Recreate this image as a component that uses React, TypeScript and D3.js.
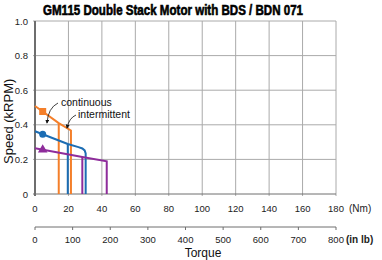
import React from "react";
import * as d3 from "d3";

const title = "GM115 Double Stack Motor with BDS / BDN 071";
const nmTicks = [0, 20, 40, 60, 80, 100, 120, 140, 160, 180];
const inlbTicks = [0, 100, 200, 300, 400, 500, 600, 700, 800];
const speedTicks = [0, 0.2, 0.4, 0.6, 0.8, 1.0];

// Orange (square marker)
const orangeTorque = [0, 14.2, 21.5, 21.5];
const orangeSpeed = [0.509, 0.41, 0.367, 0];
const orangeCont = 14.2;
// Blue (circle marker)
const blueTorque = [0, 19.6, 26, 28.3, 29.7, 30.3, 30.3];
const blueSpeed = [0.363, 0.289, 0.271, 0.263, 0.252, 0.235, 0];
const blueCont = 19.6;
// Purple (triangle marker)
const purpleTorque = [0, 28.3, 42.9, 42.9];
const purpleSpeed = [0.264, 0.214, 0.189, 0];
const purpleCont = 28.3;
const markerTorque = 4.6;

const series = [
  { color: "#f47f2a", torque: orangeTorque, speed: orangeSpeed, cont: orangeCont, marker: "square" },
  { color: "#1c6db3", torque: blueTorque, speed: blueSpeed, cont: blueCont, marker: "circle" },
  { color: "#8e2c9b", torque: purpleTorque, speed: purpleSpeed, cont: purpleCont, marker: "triangle" },
];

function interp(xs: number[], ys: number[], x: number) {
  for (let i = 0; i < xs.length - 1; i++) {
    if (x >= xs[i] && x <= xs[i + 1] && xs[i + 1] !== xs[i]) {
      const t = (x - xs[i]) / (xs[i + 1] - xs[i]);
      return ys[i] + t * (ys[i + 1] - ys[i]);
    }
  }
  return ys[ys.length - 1];
}

export default function App() {
  const W = 382, H = 260;
  const x = d3.scaleLinear().domain([0, 180]).range([35, 336]);
  const x2 = d3.scaleLinear().domain([0, 800]).range([35, 336]);
  const y = d3.scaleLinear().domain([0, 1]).range([194, 21]);
  const line = d3.line<[number, number]>().x(d => x(d[0])).y(d => y(d[1]));
  const font = "Liberation Sans, Arial, sans-serif";
  const grid = "#aaaaaa";
  const axisC = "#6e6e6e";

  return (
    <svg width={W} height={H} style={{ position: "absolute", left: 0, top: 0 }} fontFamily={font}>
      <rect width={W} height={H} fill="#fff" />
      <text x={173} y={15} textAnchor="middle" fontFamily="Liberation Sans Narrow, Arial Narrow, sans-serif" fontWeight="bold" fontSize={14.5} stroke="#000" strokeWidth={0.6} textLength={260} lengthAdjust="spacingAndGlyphs">{title}</text>
      {/* grid */}
      {nmTicks.map(t => (
        <line key={"v" + t} x1={x(t)} x2={x(t)} y1={y(1)} y2={y(0) + 2} stroke={grid} strokeWidth={1} />
      ))}
      {speedTicks.map(t => (
        <line key={"h" + t} x1={x(0) - 2} x2={x(180)} y1={y(t)} y2={y(t)} stroke={t === 0 ? axisC : grid} strokeWidth={1} />
      ))}
      <line x1={x(0)} x2={x(0)} y1={y(1)} y2={y(0) + 2} stroke={axisC} strokeWidth={2} />
      {speedTicks.map(t => (
        <text key={"yl" + t} x={28} y={y(t) + 3.5} textAnchor="end" fontSize={9.5} fill="#222">{t === 0 ? "0" : t.toFixed(1)}</text>
      ))}
      {nmTicks.map(t => (
        <text key={"xl" + t} x={x(t)} y={212} textAnchor="middle" fontSize={9.5} fill="#222">{t}</text>
      ))}
      <text x={349} y={212} fontSize={10} fill="#222">(Nm)</text>
      {/* second axis */}
      <line x1={x2(0)} x2={x2(800)} y1={227} y2={227} stroke={axisC} strokeWidth={1} />
      {inlbTicks.map(t => (
        <g key={"il" + t}>
          <line x1={x2(t)} x2={x2(t)} y1={227} y2={230} stroke={axisC} />
          <text x={x2(t)} y={243} textAnchor="middle" fontSize={9.5} fill="#222">{t}</text>
        </g>
      ))}
      <text x={346} y={243} fontSize={10} fontWeight="bold" fill="#222">(in lb)</text>
      <text x={203} y={257} textAnchor="middle" fontSize={12} fill="#111">Torque</text>
      <text transform={`translate(13,${y(0.42)}) rotate(-90)`} textAnchor="middle" fontSize={13} fill="#111">Speed (kRPM)</text>
      {/* curves */}
      {series.map((s, i) => {
        const pts = s.torque.map((t, j) => [t, s.speed[j]] as [number, number]);
        const cy = interp(s.torque, s.speed, s.cont);
        const my = interp(s.torque, s.speed, markerTorque);
        const mx = x(markerTorque), mpy = y(my);
        return (
          <g key={i}>
            <path d={line(pts) || ""} fill="none" stroke={s.color} strokeWidth={2} />
            <line x1={x(s.cont)} x2={x(s.cont)} y1={y(cy)} y2={y(0)} stroke={s.color} strokeWidth={2} />
            {s.marker === "square" && <rect x={mx - 3.5} y={mpy - 3.5} width={7} height={7} fill={s.color} />}
            {s.marker === "circle" && <circle cx={mx} cy={mpy} r={3.5} fill={s.color} />}
            {s.marker === "triangle" && <path d={d3.symbol(d3.symbolTriangle, 40)() || ""} transform={`translate(${mx},${mpy})`} fill={s.color} />}
          </g>
        );
      })}
      {/* annotations */}
      <defs>
        <marker id="ah" viewBox="0 0 6 6" refX={5} refY={3} markerWidth={5} markerHeight={5} orient="auto">
          <path d="M0,0 L6,3 L0,6 Z" fill="#111" />
        </marker>
      </defs>
      <text x={61} y={106} fontSize={10.5} fill="#111">continuous</text>
      <text x={78} y={118} fontSize={10.5} fill="#111">intermittent</text>
      <path d="M58,103 Q48,108 47,123" fill="none" stroke="#111" strokeWidth={0.8} markerEnd="url(#ah)" />
      <path d="M76,115 Q69,118 67,128" fill="none" stroke="#111" strokeWidth={0.8} markerEnd="url(#ah)" />
    </svg>
  );
}
